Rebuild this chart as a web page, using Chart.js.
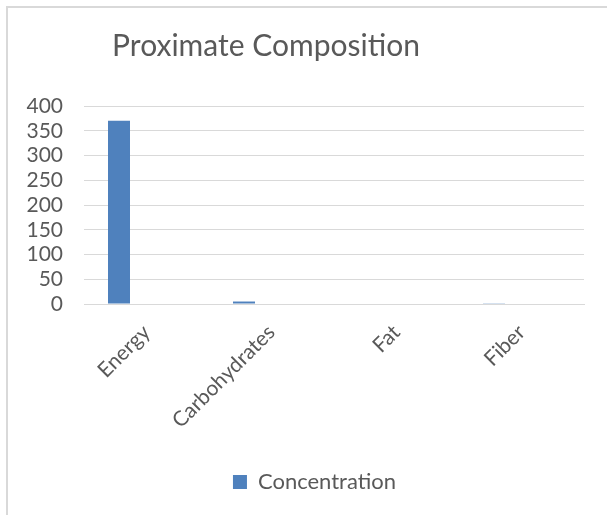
<!DOCTYPE html>
<html>
<head>
<meta charset="utf-8">
<script src="https://cdn.jsdelivr.net/npm/chart.js@4/dist/chart.umd.min.js"></script>
<style>
  html, body { margin: 0; padding: 0; background: #ffffff; }
  #frame { position: absolute; left: 6px; top: 6px; width: 601px; height: 509px;
           border-top: 2px solid #d9d9d9; border-left: 2px solid #d9d9d9; box-sizing: border-box; }
  #wrap { position: absolute; left: 8px; top: 8px; width: 599px; height: 507px; }
</style>
</head>
<body>
<div id="frame"></div>
<div id="wrap"><canvas id="c"></canvas></div>
<script>
const categories = ["Energy", "Carbohydrates", "Fat", "Fiber"];
const concentration = [370, 5, 0, 1.5];
const spacerSeries = [null, null, null, null];
const yTicks = [0, 50, 100, 150, 200, 250, 300, 350, 400];

const FONT = "Lato, 'Open Sans', sans-serif";
const TXT = "#595959";

// Recentre title and legend the way the original (wider, cropped) chart had them
const recentre = {
  id: "recentre",
  afterLayout(chart) {
    const t = chart.titleBlock;
    if (t) { const w = t.right - t.left; const c = 258; t.left = c - w / 2; t.right = c + w / 2; }
    const l = chart.legend;
    if (l) { const w = l.right - l.left; const c = 306.5; l.left = c - w / 2; l.right = c + w / 2; }
  }
};

new Chart(document.getElementById("c"), {
  type: "bar",
  data: {
    labels: categories,
    datasets: [
      { label: "Concentration", data: concentration, backgroundColor: "#4F81BD",
        barPercentage: 0.4, categoryPercentage: 0.88 },
      { label: "", data: spacerSeries, backgroundColor: "rgba(0,0,0,0)",
        barPercentage: 0.4, categoryPercentage: 0.88 }
    ]
  },
  plugins: [recentre],
  options: {
    responsive: true,
    maintainAspectRatio: false,
    animation: false,
    layout: { padding: { left: 0, right: 23, top: 0, bottom: 12 } },
    plugins: {
      title: { display: true, text: "Proximate Composition", color: TXT,
               font: { family: FONT, size: 30, weight: "normal" },
               padding: { top: 20, bottom: 42 } },
      legend: { position: "bottom",
                labels: { color: TXT, font: { family: FONT, size: 22 },
                          boxWidth: 14, boxHeight: 14, padding: 10,
                          filter: (item) => item.text !== "" } },
      tooltip: { enabled: false }
    },
    scales: {
      x: {
        grid: { display: false, drawTicks: false },
        border: { display: true, color: "#d9d9d9", width: 1 },
        ticks: { color: TXT, font: { family: FONT, size: 21 },
                 minRotation: 45, maxRotation: 45, padding: 16, autoSkip: false },
        afterFit: (s) => { s.height = 157; }
      },
      y: {
        min: 0, max: 400,
        afterBuildTicks: (s) => { s.ticks = yTicks.map(v => ({ value: v })); },
        grid: { color: "#d9d9d9", drawTicks: false },
        border: { display: false },
        ticks: { color: TXT, font: { family: FONT, size: 21 }, padding: 21, autoSkip: false },
        afterFit: (s) => { s.width = 76; }
      }
    }
  }
});
</script>
</body>
</html>
